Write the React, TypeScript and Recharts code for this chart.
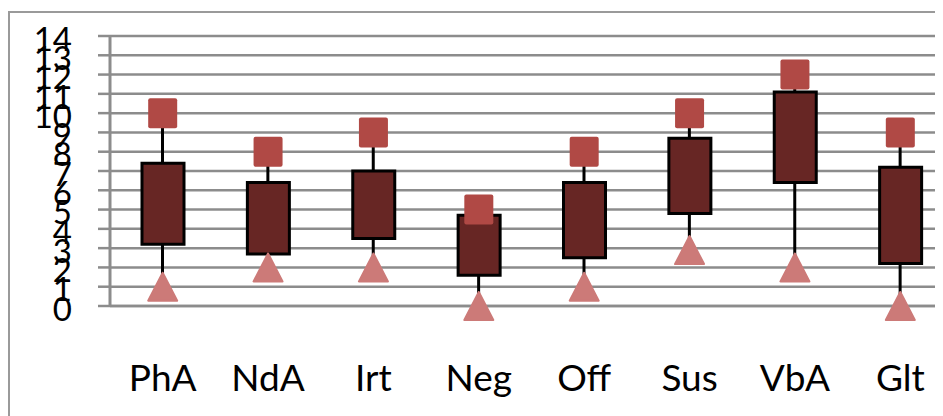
import { Bar, CartesianGrid, ComposedChart, Scatter, XAxis, YAxis } from 'recharts'

const categories = ['PhA', 'NdA', 'Irt', 'Neg', 'Off', 'Sus', 'VbA', 'Glt']
const maxValues = [10, 8, 9, 5, 8, 10, 12, 9]
const minValues = [1, 2, 2, 0, 1, 2.9, 2, 0]
const boxTop = [7.4, 6.4, 7.0, 4.7, 6.4, 8.7, 11.1, 7.2]
const boxBottom = [3.2, 2.7, 3.5, 1.6, 2.5, 4.8, 6.4, 2.2]
const yTicks = [0, 1, 2, 3, 4, 5, 6, 7, 8, 9, 10, 11, 12, 13, 14]

const data = categories.map((name, i) => ({
  name,
  max: maxValues[i],
  min: minValues[i],
  whisker: [minValues[i], maxValues[i]],
  box: [boxBottom[i], boxTop[i]],
}))

const GRID = '#8c8c8c'
const FONT = 'Lato, "Liberation Sans", sans-serif'

function SquareMarker(props: any) {
  const { cx, cy } = props
  if (cx == null || cy == null) return null
  return <rect x={cx - 14.5} y={cy - 15} width={29} height={30} rx={2} fill="#b04945" />
}

function TriangleMarker(props: any) {
  const { cx, cy } = props
  if (cx == null || cy == null) return null
  const pts = `${cx},${cy - 14} ${cx - 14.5},${cy + 14} ${cx + 14.5},${cy + 14}`
  return <polygon points={pts} fill="#cc7a78" stroke="#cc7a78" strokeWidth={2} strokeLinejoin="round" />
}

export default function App() {
  return (
    <div
      style={{
        width: 935,
        height: 405,
        marginTop: 3,
        overflow: 'hidden',
        borderLeft: '2px solid #9a9a9a',
        borderTop: '2px solid #9a9a9a',
        boxSizing: 'border-box',
      }}
    >
      <ComposedChart width={970} height={420} data={data} margin={{ top: 23, right: 27, bottom: 47, left: 0 }}>
        <CartesianGrid vertical={false} stroke={GRID} strokeWidth={2.5} />
        <XAxis
          xAxisId="main"
          dataKey="name"
          height={80}
          tickLine={false}
          tickSize={0}
          tickMargin={59}
          axisLine={{ stroke: GRID, strokeWidth: 2.5 }}
          tick={{ fill: '#000', fontSize: 37, fontFamily: FONT }}
          interval={0}
        />
        <XAxis xAxisId="whisk" dataKey="name" hide />
        <YAxis
          xAxisId="main"
          domain={[0, 14]}
          ticks={yTicks}
          interval={0}
          width={100}
          tickSize={12}
          tickMargin={26}
          axisLine={{ stroke: GRID, strokeWidth: 3 }}
          tickLine={{ stroke: GRID, strokeWidth: 2.5 }}
          tick={{ fill: '#000', fontSize: 33, fontFamily: FONT, dy: 3 }}
        />
        <Bar xAxisId="whisk" dataKey="whisker" barSize={3} fill="#000" isAnimationActive={false} />
        <Bar
          xAxisId="main"
          dataKey="box"
          barSize={42}
          fill="#672624"
          stroke="#000"
          strokeWidth={3}
          isAnimationActive={false}
        />
        <Scatter xAxisId="main" dataKey="max" shape={SquareMarker} isAnimationActive={false} />
        <Scatter xAxisId="main" dataKey="min" shape={TriangleMarker} isAnimationActive={false} />
      </ComposedChart>
    </div>
  )
}
